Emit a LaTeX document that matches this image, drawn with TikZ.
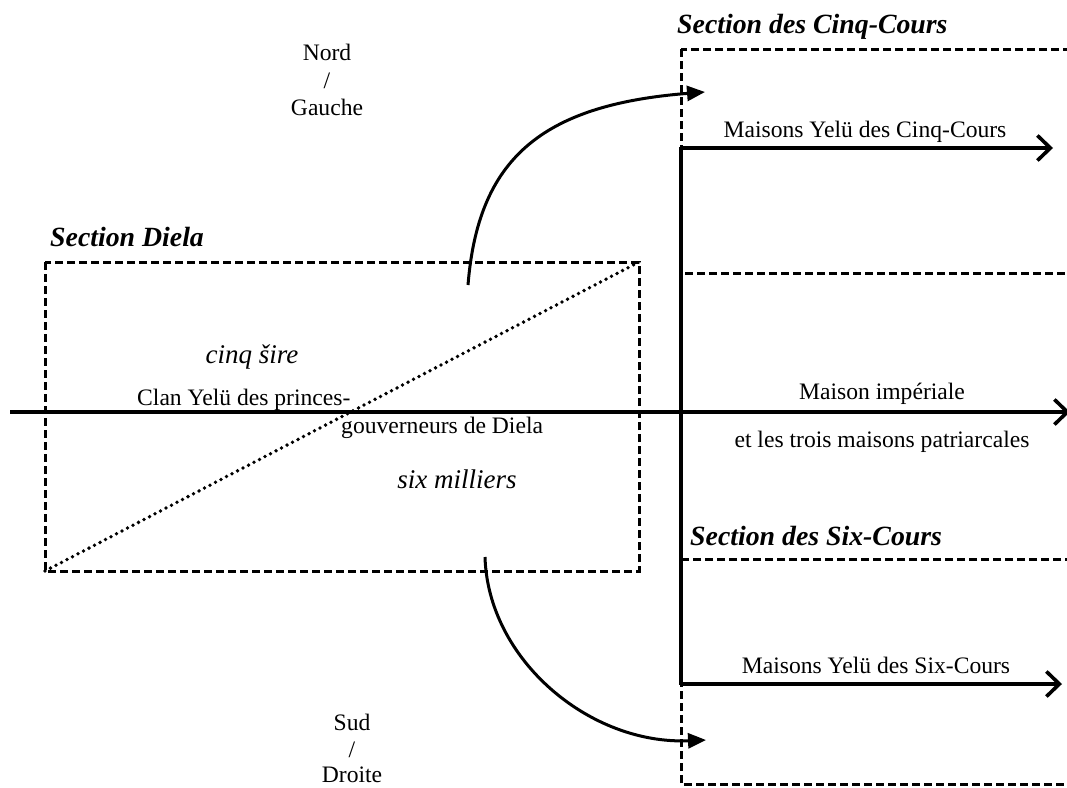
\documentclass[tikz,border=0pt]{standalone}
\usepackage{fontspec}
\setmainfont{Liberation Serif}
\usetikzlibrary{arrows.meta}
\begin{document}
\begin{tikzpicture}[x=1pt,y=-1pt,
  reg/.style={font=\fontsize{23.6}{28}\selectfont, inner sep=0pt},
  ital/.style={font=\fontsize{27}{32}\selectfont\itshape, inner sep=0pt},
  title/.style={font=\fontsize{27.8}{33}\selectfont\bfseries\itshape, inner sep=0pt},
  dashbox/.style={line width=3pt, dash pattern=on 8pt off 4pt},
  dotline/.style={line width=3.8pt, line cap=round, dash pattern=on 0pt off 6.2pt},
  axis/.style={line width=3.6pt},
  chev/.style={-{Straight Barb[length=13pt,width=25pt]}},
  curv/.style={line width=3pt, -{Triangle[length=18pt,width=15pt]}}
]
\useasboundingbox (0,0) rectangle (1067,787);
\fill[white] (0,0) rectangle (1067,787);

% coordinates
\coordinate (dNW) at (45,262);
\coordinate (dSE) at (639,571);
\coordinate (dSW) at (45,571);
\coordinate (dNE) at (639,262);
\coordinate (axL) at (10,412);
\coordinate (axR) at (1070,412);
\coordinate (vT) at (681,147);
\coordinate (vB) at (681,685);
\coordinate (cT) at (681,148);
\coordinate (cE) at (1053,148);
\coordinate (sT) at (681,684);
\coordinate (sE) at (1062,684);
\coordinate (upS) at (468,285);
\coordinate (upE) at (705,92);
\coordinate (loS) at (485,557);
\coordinate (loE) at (706,740);

% boxes
\draw[dashbox] (dNW) rectangle (dSE);
\draw[dotline] (dSW) -- (dNE);
\draw[dashbox] (681,49) rectangle (1090,273);
\draw[dashbox] (681,559) rectangle (1090,784);

% main lines
\draw[axis,chev] (axL) -- (axR);
\draw[axis] (vT) -- (vB);
\draw[axis,chev] (cT) -- (cE);
\draw[axis,chev] (sT) -- (sE);

% curved arrows
\draw[curv] (upS) .. controls (478,160) and (540,105) .. (upE);
\draw[curv] (loS) .. controls (488,660) and (590,745) .. (loE);

% titles
\node[title, anchor=base west] (tCinq) at (677,33) {Section des Cinq-Cours};
\node[title, anchor=base west] (tDiela) at (50,246) {Section Diela};
\node[title, anchor=base west] (tSix) at (690,545) {Section des Six-Cours};

% labels
\node[reg, anchor=base] (lCinq) at (865,137) {Maisons Yelü des Cinq-Cours};
\node[reg, anchor=base] (lSix) at (876,673) {Maisons Yelü des Six-Cours};
\node[reg, anchor=base] (lImp) at (882,399) {Maison impériale};
\node[reg, anchor=base] (lPat) at (882,447) {et les trois maisons patriarcales};

\node[reg, anchor=base] (nord) at (327,60) {Nord};
\node[reg, anchor=base] (nsl) at (327,88) {/};
\node[reg, anchor=base] (gau) at (327,115) {Gauche};
\node[reg, anchor=base] (sud) at (352,730) {Sud};
\node[reg, anchor=base] (ssl) at (352,757) {/};
\node[reg, anchor=base] (dro) at (352,782) {Droite};

\node[ital, anchor=base] (cinq) at (252,363) {cinq šire};
\node[reg, anchor=base west] (clan1) at (137,405) {Clan Yelü des princes-};
\node[reg, anchor=base west] (clan2) at (341,433) {gouverneurs de Diela};
\node[ital, anchor=base] (six) at (457,488) {six milliers};
\end{tikzpicture}
\end{document}
